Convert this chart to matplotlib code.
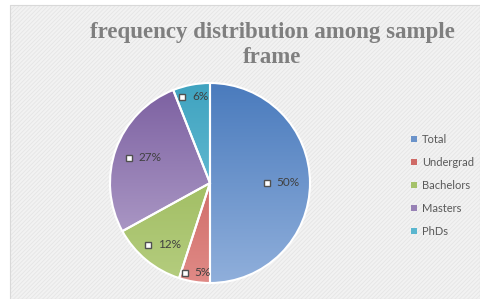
import numpy as np
import matplotlib
matplotlib.use('Agg')
import matplotlib.pyplot as plt
from matplotlib.patches import Rectangle
from matplotlib.colors import LinearSegmentedColormap
import matplotlib.transforms as mtransforms

categories = ['Total', 'Undergrad', 'Bachelors', 'Masters', 'PhDs']
values = [50, 5, 12, 27, 6]
pct_labels = ['50%', '5%', '12%', '27%', '6%']

dark = ['#4a7bbd', '#c0504d', '#8fb04a', '#7b5fa0', '#3fa3c0']
light = ['#90afdb', '#e08a86', '#b5cd7f', '#b9a9d0', '#7fcbde']
mid = ['#6b93ca', '#cf6a66', '#a5c26a', '#9781b5', '#5ab6cf']
label_r = [0.68, 0.91, 0.80, 0.74, 0.88]

plt.rcParams['hatch.linewidth'] = 0.6

fig = plt.figure(figsize=(4.8, 2.99), dpi=100)
bg = Rectangle((10 / 480, 0), 1 - 10 / 480, 1 - 5 / 299, transform=fig.transFigure,
               facecolor='#f2f2f2', edgecolor='#e5e5e5', hatch='////////',
               linewidth=0, zorder=-2)
fig.patches.append(bg)
fig.patches.append(Rectangle((10 / 480, 0), 1 - 10 / 480, 1 - 5 / 299,
                             transform=fig.transFigure, facecolor='none',
                             edgecolor='#d9d9d9', linewidth=0.8, zorder=-1))

ax = fig.add_axes([110 / 480, 16 / 299, 200 / 480, 200 / 299])
ax.set_facecolor('none')

wedges, _ = ax.pie(values, startangle=90, counterclock=False,
                   colors=mid, wedgeprops=dict(edgecolor='white', linewidth=1.5))

grad = np.linspace(0, 1, 256).reshape(-1, 1)
for w, d, l in zip(wedges, dark, light):
    cmap = LinearSegmentedColormap.from_list('g', [d, l])
    im = ax.imshow(grad, cmap=cmap, extent=[-1, 1, -1, 1], origin='upper',
                   aspect='auto', zorder=1)
    im.set_clip_path(w)
    w.set_facecolor('none')
    w.set_zorder(2)

for w, lab, r in zip(wedges, pct_labels, label_r):
    ang = np.deg2rad((w.theta1 + w.theta2) / 2)
    x, y = r * np.cos(ang), r * np.sin(ang)
    tr_m = mtransforms.offset_copy(ax.transData, fig=fig, x=-8, y=0, units='points')
    tr_t = mtransforms.offset_copy(ax.transData, fig=fig, x=-1, y=0, units='points')
    ax.plot([x], [y], marker='s', markersize=5, markerfacecolor='white',
            markeredgecolor='#505050', markeredgewidth=1.0, transform=tr_m, zorder=4)
    ax.text(x, y, lab, transform=tr_t, ha='left', va='center', fontsize=8.5,
            color='#404040', family='Lato', zorder=4)

ax.set_xlim(-1, 1)
ax.set_ylim(-1, 1)
ax.set_aspect('equal')
ax.axis('off')

leg = fig.legend(wedges, categories, loc='upper left', bbox_to_anchor=(401 / 480, 1 - 124 / 299),
                 frameon=False, handlelength=0.5, handleheight=0.5,
                 labelspacing=1.08, handletextpad=0.5, labelcolor='#595959',
                 prop={'family': 'Lato', 'size': 8})
for h, c in zip(leg.legend_handles, mid):
    h.set_facecolor(c)
    h.set_edgecolor('none')

fig.text(272 / 480, 1 - 45 / 299, 'frequency distribution among sample\nframe',
         ha='center', va='center', fontsize=16.5, fontweight='bold',
         family='Liberation Serif', color='#7f7f7f', linespacing=1.3)

fig.savefig('out.png', dpi=100)
